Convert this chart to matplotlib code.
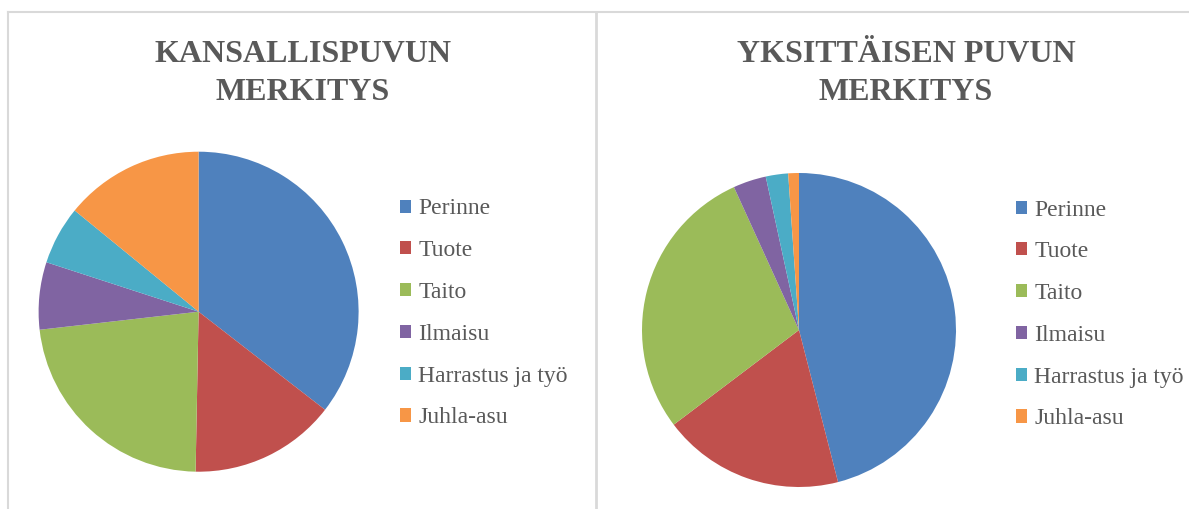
import matplotlib
matplotlib.use("Agg")
import matplotlib.pyplot as plt
from matplotlib.lines import Line2D

categories = ["Perinne", "Tuote", "Taito", "Ilmaisu", "Harrastus ja työ", "Juhla-asu"]
kansallispuku = [35.5, 14.8, 22.9, 6.8, 5.9, 14.1]
yksittainen = [46.0, 18.7, 28.5, 3.4, 2.3, 1.1]
colors = ["#4F81BD", "#C0504D", "#9BBB59", "#8064A2", "#4BACC6", "#F79646"]
titles = [["KANSALLISPUVUN", "MERKITYS"], ["YKSITTÄISEN PUVUN", "MERKITYS"]]

W, H = 1189, 509
fig = plt.figure(figsize=(W / 100, H / 100), dpi=100)
fig.patch.set_facecolor("white")

serif = ["Liberation Serif", "DejaVu Serif"]
txt_col = "#595959"


def px_axes(cx, cy, r):
    # axes box in figure fractions from a pixel centre/radius (y from top)
    return [(cx - r) / W, (H - cy - r) / H, 2 * r / W, 2 * r / H]


panels = [
    dict(vals=kansallispuku, title=titles[0], cx=198.6, cy=311.7, r=160,
         tx=303, leg=(400, 198.5)),
    dict(vals=yksittainen, title=titles[1], cx=799, cy=330, r=157,
         tx=906, leg=(1016, 199.5)),
]

for p in panels:
    ax = fig.add_axes(px_axes(p["cx"], p["cy"], p["r"]))
    wedges, _ = ax.pie(p["vals"], colors=colors, startangle=90,
                       counterclock=False, radius=1.0,
                       wedgeprops=dict(linewidth=0))
    ax.set_xlim(-1, 1)
    ax.set_ylim(-1, 1)
    ax.set_aspect("auto")
    ax.axis("off")

    for line, base in zip(p["title"], [61.5, 99.5]):
        fig.text(p["tx"] / W, 1 - base / H, line, ha="center", va="baseline",
                 family=serif, fontweight="bold", fontsize=23, color=txt_col)

    leg = fig.legend(wedges, categories, loc="upper left",
                     bbox_to_anchor=(p["leg"][0] / W, 1 - p["leg"][1] / H),
                     frameon=False, handlelength=0.48, handleheight=0.48,
                     handletextpad=0.3, labelspacing=0.88, borderaxespad=0,
                     borderpad=0, prop=dict(family=serif, size=17))
    for t in leg.get_texts():
        t.set_color(txt_col)

# panel borders
bc = "#D9D9D9"
fig.add_artist(Line2D([8 / W, 8 / W], [0, 1 - 12 / H], color=bc, lw=1.5))
fig.add_artist(Line2D([8 / W, 1], [1 - 12 / H, 1 - 12 / H], color=bc, lw=1.5))
fig.add_artist(Line2D([596 / W, 596 / W], [0, 1 - 12 / H], color=bc, lw=2))

fig.savefig("out.png", dpi=100)
